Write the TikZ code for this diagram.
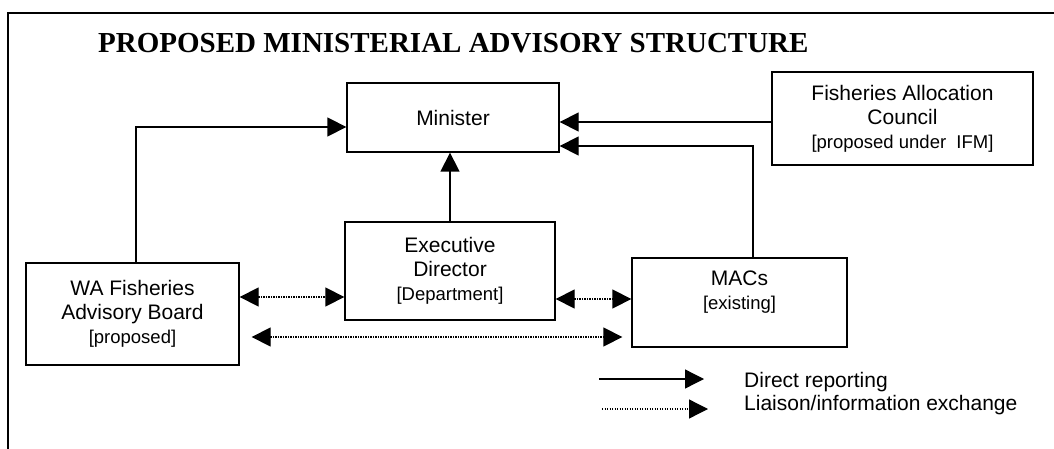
\documentclass[tikz,border=0pt]{standalone}
\usepackage{fontspec}
\setmainfont{Liberation Sans}
\newfontfamily\titlefont{Liberation Serif}
\usetikzlibrary{arrows.meta}
\tikzset{
  advisory box/.style={draw=black,line width=1.3pt,align=center,inner sep=0pt,
    font=\fontsize{21}{24}\selectfont},
  advisory text/.style={align=center,inner sep=0pt,font=\fontsize{21}{24}\selectfont},
  direct/.style={line width=1.3pt,-{Triangle[length=19pt,width=19pt]}},
  liaison/.style={line width=1.3pt,dash pattern=on 1.2pt off 1.3pt,
    {Triangle[length=19pt,width=19pt]}-{Triangle[length=19pt,width=19pt]}},
  liaison one/.style={line width=1.3pt,dash pattern=on 1.2pt off 1.3pt,
    -{Triangle[length=19pt,width=19pt]}},
  legend note/.style={anchor=west,inner sep=0pt,font=\fontsize{21}{24}\selectfont}
}
\newcommand{\sm}[1]{{\fontsize{18.5}{22}\selectfont #1}}

\begin{document}
\begin{tikzpicture}[x=1pt,y=-1pt]
  \useasboundingbox (0,0) rectangle (1054,449);
  \draw[line width=1.3pt] (8,449)--(8,13)--(1054,13);
  \node[anchor=base west,inner sep=0pt,font=\titlefont\bfseries\fontsize{29}{32}\selectfont]
    (title) at (98,53) {PROPOSED MINISTERIAL ADVISORY STRUCTURE};

  % boxes
  \node[advisory box,minimum width=212pt,minimum height=69pt] (minister) at (453,117.5) {Minister};
  \node[advisory box,minimum width=261pt,minimum height=93pt] (fac) at (902.5,118.5)
    {Fisheries Allocation\\Council\\\sm{[proposed under\ \ IFM]}};
  \node[advisory box,minimum width=213pt,minimum height=102pt] (wafab) at (132.5,314)
    {WA Fisheries\\Advisory Board\\\sm{[proposed]}};
  \node[advisory box,minimum width=210pt,minimum height=98pt] (exec) at (450,271)
    {Executive\\Director\\\sm{[Department]}};
  \node[advisory box,minimum width=215pt,minimum height=89pt] (macs) at (739.5,302.5) {};
  \node[advisory text] (macstext) at (739.5,292) {MACs\\\sm{[existing]}};

  % direct reporting
  \draw[direct] ([xshift=3.5pt]wafab.north) |- ([yshift=-9.5pt]minister.west);
  \draw[direct] (exec.north) -- (exec.north |- minister.south);
  \draw[direct] ([yshift=-3.5pt]fac.west) -- ([yshift=-3.5pt]fac.west -| minister.east);
  \draw[direct] ([xshift=13.5pt]macs.north) |- ([yshift=-28.5pt]minister.east);

  % liaison
  \draw[liaison] ([yshift=-26pt]exec.west -| wafab.east) -- ([yshift=-26pt]exec.west);
  \draw[liaison] ([yshift=-28pt]exec.east) -- ([yshift=-28pt]exec.east -| macs.west);
  \draw[liaison,shorten <=12pt,shorten >=9pt] ([yshift=-23pt]wafab.east) -- ([yshift=-23pt]wafab.east -| macs.west);

  % legend
  \coordinate (directA) at (599,379);
  \coordinate (directB) at (704,379);
  \coordinate (liaisonA) at (602,409);
  \coordinate (liaisonB) at (708,409);
  \draw[direct] (directA) -- (directB);
  \draw[liaison one] (liaisonA) -- (liaisonB);
  \node[legend note] (directtext) at (744,382) {Direct reporting};
  \node[legend note] (liaisontext) at (744,405) {Liaison/information exchange};
\end{tikzpicture}
\end{document}
